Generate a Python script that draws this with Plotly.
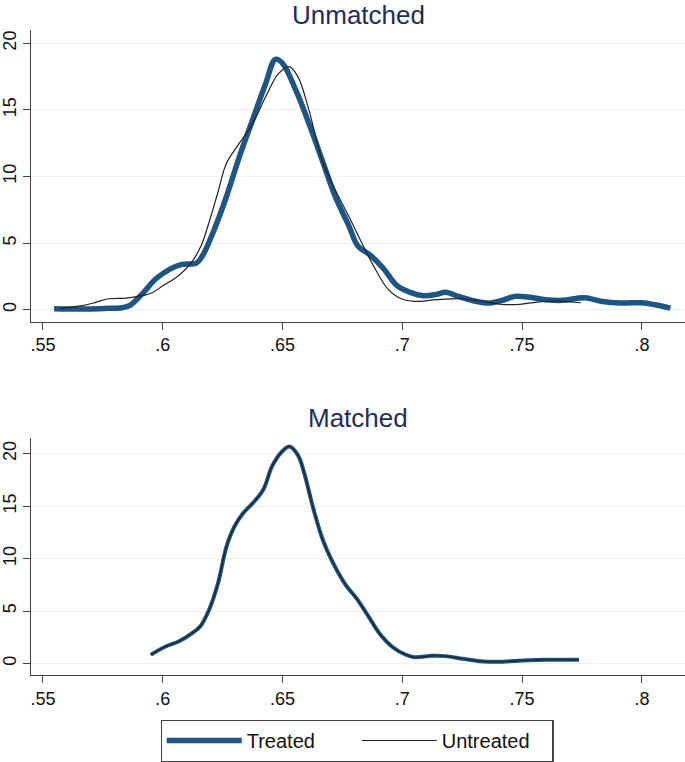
import plotly.graph_objects as go

# ---- Unmatched panel data ----
unm_treated_x = [0.5546, 0.568, 0.577, 0.583, 0.5865, 0.592, 0.597, 0.603, 0.608, 0.614, 0.6166,
                 0.621, 0.6266, 0.632, 0.6376, 0.643, 0.647, 0.650, 0.6555, 0.661, 0.6664, 0.672,
                 0.6777, 0.6814, 0.6869, 0.6923, 0.6978, 0.7033, 0.7088, 0.7142, 0.718, 0.7234,
                 0.729, 0.736, 0.7416, 0.747, 0.7525, 0.7598, 0.767, 0.7726, 0.7763, 0.7836,
                 0.791, 0.800, 0.8055, 0.8119]
unm_treated_y = [0.07, 0.05, 0.10, 0.15, 0.35, 1.3, 2.3, 3.05, 3.4, 3.5, 4.05,
                 5.8, 8.5, 11.5, 14.3, 17.0, 18.8, 18.5, 16.5, 14.0, 11.3, 8.5,
                 6.3, 4.8, 4.05, 3.05, 1.8, 1.3, 1.05, 1.15, 1.3, 1.0,
                 0.7, 0.5, 0.7, 1.0, 0.95, 0.75, 0.7, 0.85, 0.9, 0.62,
                 0.5, 0.52, 0.37, 0.12]

unm_untreated_x = [0.557, 0.5664, 0.572, 0.5774, 0.5847, 0.592, 0.5956, 0.600, 0.6066, 0.612,
                   0.616, 0.6193, 0.623, 0.6266, 0.632, 0.6376, 0.643, 0.6482, 0.6527, 0.6564,
                   0.661, 0.6664, 0.672, 0.6777, 0.683, 0.6887, 0.694, 0.6996, 0.7051, 0.7142,
                   0.725, 0.7325, 0.7416, 0.749, 0.7562, 0.7653, 0.7745]
unm_untreated_y = [0.1, 0.3, 0.55, 0.82, 0.87, 1.07, 1.27, 1.8, 2.55, 3.55,
                   4.8, 6.55, 8.8, 11.0, 12.5, 14.0, 16.0, 17.7, 18.25, 17.5,
                   15.0, 11.3, 9.0, 7.0, 5.05, 3.05, 1.55, 0.82, 0.62, 0.75,
                   0.82, 0.65, 0.4, 0.4, 0.57, 0.65, 0.52]

# ---- Matched panel data (treated and untreated coincide) ----
mat_x = [0.595, 0.601, 0.6066, 0.612, 0.6157, 0.6193, 0.623, 0.6266, 0.630, 0.6336, 0.6376,
         0.642, 0.6456, 0.6493, 0.6529, 0.6566, 0.659, 0.663, 0.6668, 0.6704, 0.6759, 0.6814,
         0.686, 0.6905, 0.696, 0.7015, 0.705, 0.7124, 0.718, 0.7252, 0.7325, 0.740, 0.7505,
         0.760, 0.7737]
mat_treated_y = [0.83, 1.6, 2.1, 2.85, 3.55, 5.1, 7.6, 11.15, 13.1, 14.35, 15.3,
                 16.6, 18.8, 20.1, 20.7, 19.8, 18.2, 14.65, 11.8, 9.9, 7.65, 6.05,
                 4.45, 2.85, 1.55, 0.83, 0.6, 0.73, 0.7, 0.45, 0.22, 0.16, 0.29,
                 0.35, 0.35]
mat_untreated_y = list(mat_treated_y)

x_tickvals = [0.55, 0.60, 0.65, 0.70, 0.75, 0.80]
x_ticktext = [".55", ".6", ".65", ".7", ".75", ".8"]
y_tickvals = [0, 5, 10, 15, 20]
y_ticktext = ["0", "5", "10", "15", "20"]
panel_titles = ["Unmatched", "Matched"]
series_names = ["Treated", "Untreated"]

TREATED = "#1f5585"
UNTREATED = "#222222"
FONT = "Liberation Sans"

fig = go.Figure()
fig.add_trace(go.Scatter(x=unm_treated_x, y=unm_treated_y, mode="lines", name=series_names[0],
                         line=dict(color=TREATED, width=5.5, shape="spline"),
                         xaxis="x", yaxis="y", legendrank=1))
fig.add_trace(go.Scatter(x=unm_untreated_x, y=unm_untreated_y, mode="lines", name=series_names[1],
                         line=dict(color=UNTREATED, width=1.2, shape="spline"),
                         xaxis="x", yaxis="y", legendrank=2))
fig.add_trace(go.Scatter(x=mat_x, y=mat_treated_y, mode="lines", name=series_names[0],
                         line=dict(color=TREATED, width=4, shape="spline"),
                         xaxis="x2", yaxis="y2", showlegend=False))
fig.add_trace(go.Scatter(x=mat_x, y=mat_untreated_y, mode="lines", name=series_names[1],
                         line=dict(color=UNTREATED, width=1.2, shape="spline"),
                         xaxis="x2", yaxis="y2", showlegend=False))

xaxis_common = dict(range=[0.545, 0.818], tickvals=x_tickvals, ticktext=x_ticktext,
                    showline=True, linecolor="#444444", linewidth=1.2, ticks="outside",
                    ticklen=7, tickcolor="#444444", showgrid=False, zeroline=False,
                    tickfont=dict(family=FONT, size=18, color="#111111"))
yaxis_common = dict(tickvals=y_tickvals, ticktext=y_ticktext, tickangle=-90,
                    showline=True, linecolor="#444444", linewidth=1.2, ticks="outside",
                    ticklen=7, tickcolor="#444444", showgrid=True, gridcolor="#eaf3f4",
                    gridwidth=1, zeroline=False,
                    tickfont=dict(family=FONT, size=18, color="#111111"))

fig.update_layout(
    width=685, height=762,
    margin=dict(l=31, r=0, t=30, b=84),
    paper_bgcolor="white", plot_bgcolor="white",
    xaxis=dict(domain=[0, 1], anchor="y", **xaxis_common),
    yaxis=dict(domain=[0.5478, 1], anchor="x", range=[-0.9, 21], **yaxis_common),
    xaxis2=dict(domain=[0, 1], anchor="y2", **xaxis_common),
    yaxis2=dict(domain=[0, 0.3673], anchor="x2", range=[-1.1, 21.5], **yaxis_common),
    showlegend=True,
    legend=dict(orientation="h", x=0.4985, xanchor="center", y=-0.102, yanchor="middle",
                bordercolor="#444444", borderwidth=1.2, bgcolor="white",
                font=dict(family=FONT, size=20, color="#111111"),
                itemwidth=75, entrywidth=105, traceorder="normal"),
    annotations=[
        dict(text=panel_titles[0], x=0.5, y=1.024, xref="paper", yref="paper",
             showarrow=False, font=dict(family=FONT, size=26, color="#1e2d5c"),
             xanchor="center", yanchor="middle"),
        dict(text=panel_titles[1], x=0.5, y=0.398, xref="paper", yref="paper",
             showarrow=False, font=dict(family=FONT, size=26, color="#1e2d5c"),
             xanchor="center", yanchor="middle"),
    ],
)

# remove the browser's default 8px page margin so the figure sits at the window's corner
fig.write_html("out.html", config={"displayModeBar": False},
               post_script="document.body.style.margin='0px';")
